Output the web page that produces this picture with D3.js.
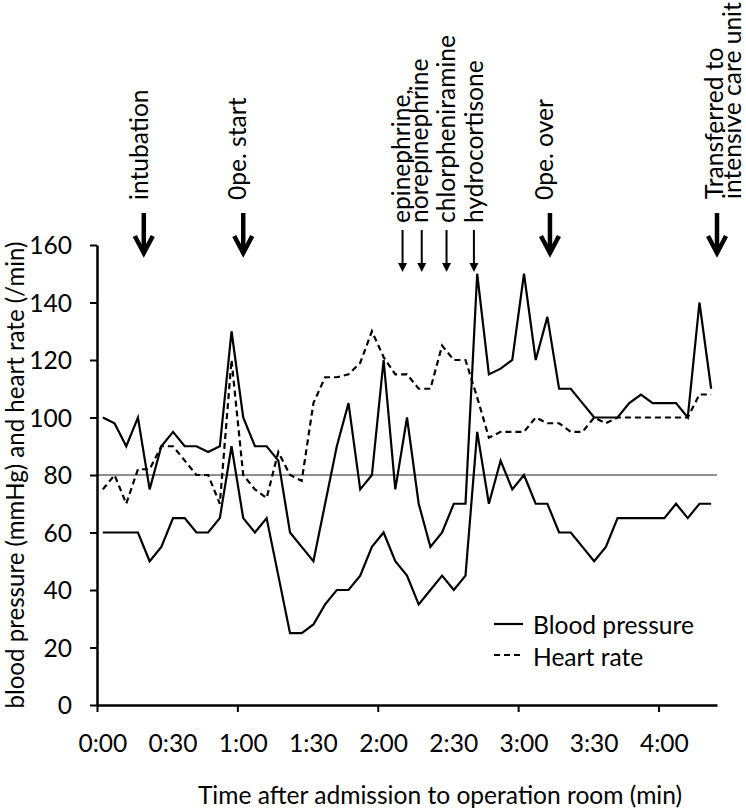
<!DOCTYPE html>
<html><head><meta charset="utf-8">
<script src="https://cdn.jsdelivr.net/npm/d3@7/dist/d3.min.js"></script>
<style>body{margin:0;background:#fff}svg{display:block}</style>
</head><body>
<svg id="chart" width="746" height="809"></svg>
<script>
// ---- data ----
const minutes = [0,5,10,15,20,25,30,35,40,45,50,55,60,65,70,75,80,85,90,95,100,105,110,115,120,125,130,135,140,145,150,155,160,165,170,175,180,185,190,195,200,205,210,215,220,225,230,235,240,245,250,255,260];
const systolic = [100,98,90,100,75,90,95,90,90,88,90,130,100,90,90,85,60,55,50,70,90,105,75,80,120,75,100,70,55,60,70,70,150,115,117,120,150,120,135,110,110,105,100,100,100,105,108,105,105,105,100,140,110];
const diastolic = [60,60,60,60,50,55,65,65,60,60,65,90,65,60,65,45,25,25,28,35,40,40,45,55,60,50,45,35,40,45,40,45,95,70,85,75,80,70,70,60,60,55,50,55,65,65,65,65,65,70,65,70,70];
const heartRate = [75,80,70,82,82,90,90,85,80,80,70,120,80,75,72,88,80,78,105,114,114,115,119,130,121,115,115,110,110,125,120,120,107,93,95,95,95,100,98,98,95,95,100,98,100,100,100,100,100,100,100,108,108];
const xLabelMinutes = [0,30,60,90,120,150,180,210,240];
const xLabels = ["0:00","0:30","1:00","1:30","2:00","2:30","3:00","3:30","4:00"];
const hourTicks = [0,60,120,180,240];
const yTicks = [0,20,40,60,80,100,120,140,160];
const refLine = 80;
const bigEvents = ["intubation","0pe. start","0pe. over"];
const bigEventMin = [20,62.5,193.6];
const transferLines = ["Transferred to","intensive care unit"];
const transferMin = 265;
const drugs = ["epinephrine,","norepinephrine","chlorpheniramine","hydrocortisone"];
const drugMin = [130.6,138.8,149.4,161.1];
const xTitle = "Time after admission to operation room (min)";
const yTitle = "blood pressure (mmHg) and heart rate (/min)";
const legendNames = ["Blood pressure","Heart rate"];

// ---- layout ----
const L = 97, R = 717, T = 245, B = 705;
const svg = d3.select("#chart");
const FF = "Lato, 'Open Sans', sans-serif";
const probe = svg.append("text").attr("font-family", FF).attr("font-size", 100).text("Blood pressure");
const FS = 100 * 161 / probe.node().getComputedTextLength();
probe.remove();

const xb = d3.scaleBand().domain(minutes).range([L, R]).padding(0);
const xl = d3.scaleLinear().domain([0, minutes.length * 5]).range([L, R]);
const y = d3.scaleLinear().domain([0, 160]).range([B, T]);
const px = m => xb(m) + xb.bandwidth() / 2;

// reference line
svg.append("line").attr("x1", L).attr("x2", R).attr("y1", y(refLine)).attr("y2", y(refLine))
  .attr("stroke", "#6b6b6b").attr("stroke-width", 1.3);

// lines
const mk = arr => d3.line().x((d, i) => px(minutes[i])).y(d => y(d))(arr);
svg.append("path").attr("d", mk(heartRate)).attr("fill", "none").attr("stroke", "#000")
  .attr("stroke-width", 2.2).attr("stroke-dasharray", "6,4");
svg.append("path").attr("d", mk(diastolic)).attr("fill", "none").attr("stroke", "#000").attr("stroke-width", 2.2);
svg.append("path").attr("d", mk(systolic)).attr("fill", "none").attr("stroke", "#000").attr("stroke-width", 2.2);

// y axis
const ya = svg.append("g").attr("transform", `translate(${L},0)`)
  .call(d3.axisLeft(y).tickValues(yTicks).tickSize(7).tickPadding(18).tickSizeOuter(0));
ya.select(".domain").attr("stroke", "#000").attr("stroke-width", 2.5);
ya.selectAll(".tick line").attr("stroke", "#000").attr("stroke-width", 2);
ya.selectAll(".tick text").attr("font-family", FF).attr("font-size", FS).attr("fill", "#000").attr("dy", "0.36em");

// x axis
const xa = svg.append("g").attr("transform", `translate(0,${B})`)
  .call(d3.axisBottom(xl).tickValues(hourTicks).tickSize(7).tickFormat("").tickSizeOuter(0));
xa.select(".domain").attr("stroke", "#000").attr("stroke-width", 2.5);
xa.selectAll(".tick line").attr("stroke", "#000").attr("stroke-width", 2);
svg.append("g").selectAll("text").data(xLabelMinutes).join("text")
  .attr("x", (d) => px(d)).attr("y", 752).attr("text-anchor", "middle")
  .attr("font-family", FF).attr("font-size", FS).text((d, i) => xLabels[i]);

// titles
svg.append("text").attr("x", 440).attr("y", 804).attr("text-anchor", "middle")
  .attr("font-family", FF).attr("font-size", FS).text(xTitle);
svg.append("text").attr("transform", `translate(24,${(T + B) / 2}) rotate(-90)`).attr("text-anchor", "middle")
  .attr("font-family", FF).attr("font-size", FS * 0.98).text(yTitle);

// big event arrows
function bigArrow(x) {
  svg.append("line").attr("x1", x).attr("x2", x).attr("y1", 213).attr("y2", 251)
    .attr("stroke", "#000").attr("stroke-width", 4.5);
  svg.append("path").attr("d", `M${x - 9},${236} L${x},${253} L${x + 9},${236}`)
    .attr("fill", "none").attr("stroke", "#000").attr("stroke-width", 4.5).attr("stroke-linejoin", "miter");
}
const bigDx = [4, 3, 3];
bigEvents.forEach((name, i) => {
  const x = xl(bigEventMin[i]);
  bigArrow(x);
  svg.append("text").attr("transform", `translate(${x + bigDx[i]},200) rotate(-90)`)
    .attr("font-family", FF).attr("font-size", FS).text(name);
});
{
  const x = xl(transferMin);
  bigArrow(x);
  transferLines.forEach((t, j) => {
    svg.append("text").attr("transform", `translate(${x + 6 + j * 18},199) rotate(-90)`)
      .attr("font-family", FF).attr("font-size", FS).text(t);
  });
}

// drug arrows
const drugDx = [7, 6, 8, 9];
drugs.forEach((name, i) => {
  const x = xl(drugMin[i]);
  svg.append("line").attr("x1", x).attr("x2", x).attr("y1", 230).attr("y2", 265)
    .attr("stroke", "#000").attr("stroke-width", 2);
  svg.append("path").attr("d", `M${x - 4.5},${263} L${x},${272} L${x + 4.5},${263} Z`).attr("fill", "#000");
  svg.append("text").attr("transform", `translate(${x + drugDx[i]},223) rotate(-90)`)
    .attr("font-family", FF).attr("font-size", FS).text(name);
});

// legend
const lg = [{y: 624, dash: null, ty: 634}, {y: 655, dash: "6,4", ty: 666}];
lg.forEach((d, i) => {
  svg.append("line").attr("x1", 494).attr("x2", 523).attr("y1", d.y).attr("y2", d.y)
    .attr("stroke", "#000").attr("stroke-width", 2.2).attr("stroke-dasharray", d.dash);
  svg.append("text").attr("x", 533).attr("y", d.ty).attr("font-family", FF).attr("font-size", FS).text(legendNames[i]);
});
</script>
</body></html>
